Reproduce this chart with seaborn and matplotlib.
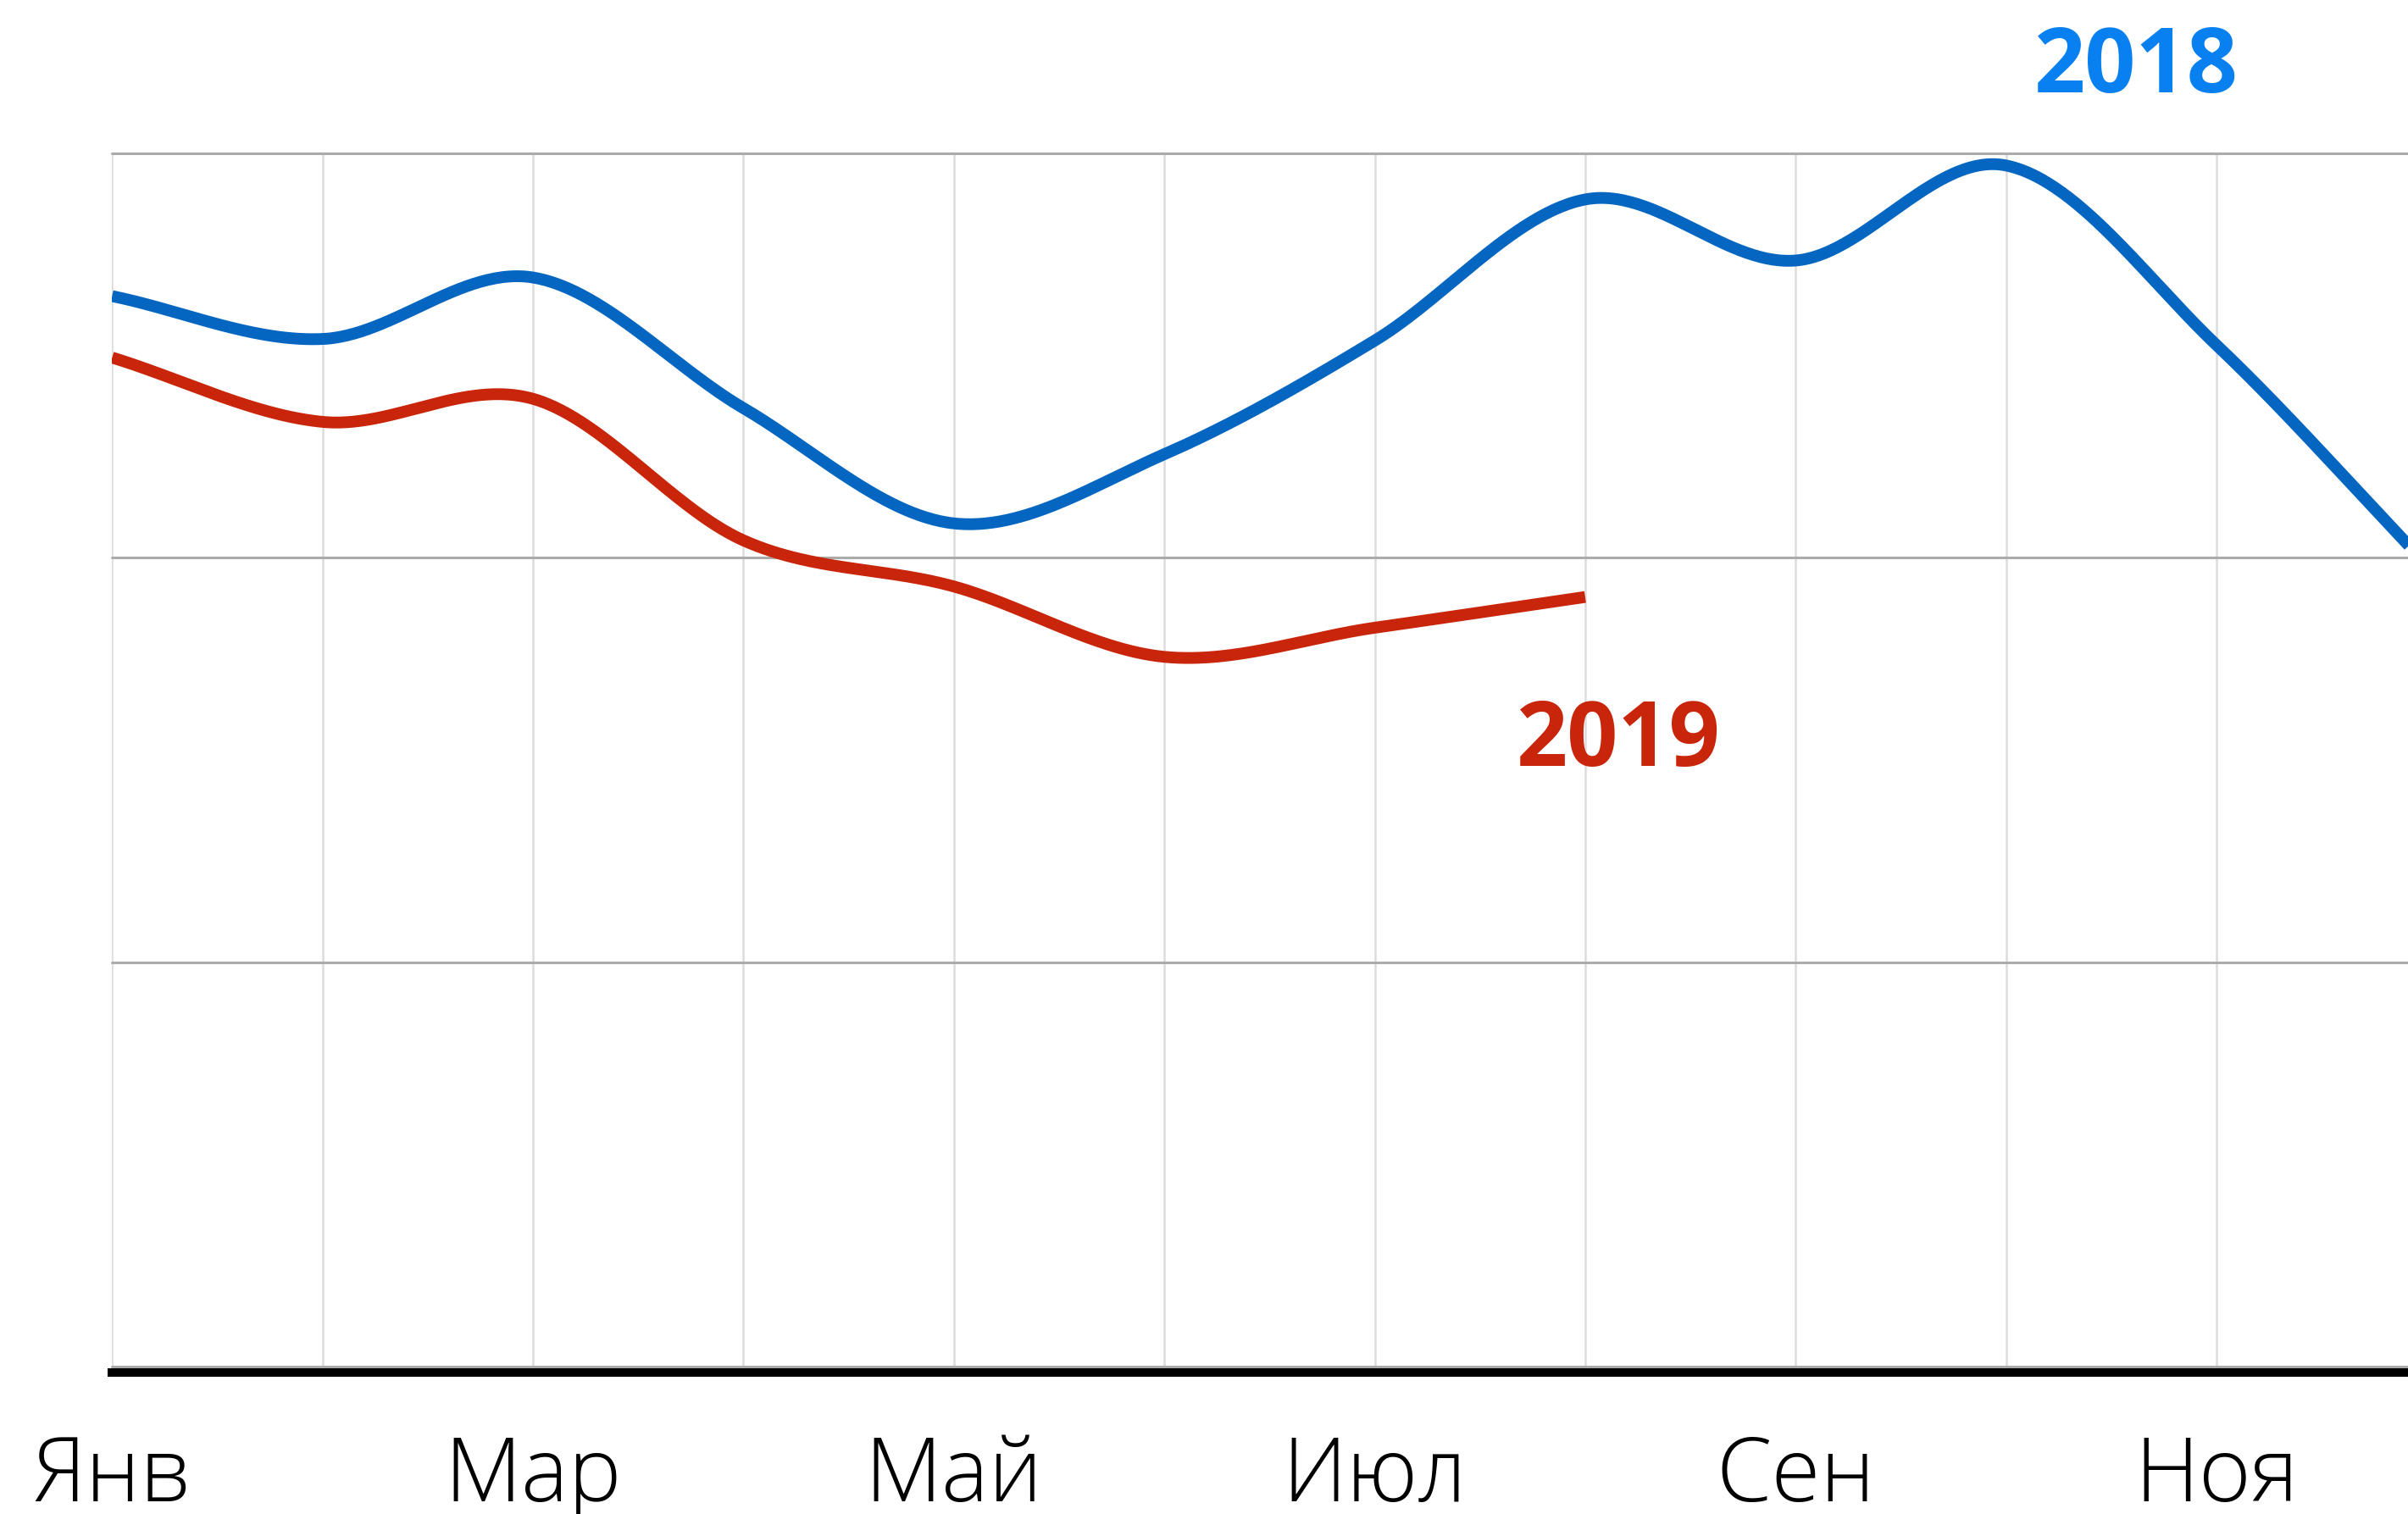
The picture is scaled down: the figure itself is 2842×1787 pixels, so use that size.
import numpy as np
import pandas as pd
import matplotlib
matplotlib.use("Agg")
import matplotlib.pyplot as plt
import seaborn as sns

# ---- data ----
months = ["Янв", "Фев", "Мар", "Апр", "Май", "Июн",
          "Июл", "Авг", "Сен", "Окт", "Ноя", "Дек"]
labelled_months = ["Янв", "Мар", "Май", "Июл", "Сен", "Ноя"]
values_2018 = [264.7, 254.1, 269.3, 237.0, 208.5, 225.6,
               253.7, 288.6, 273.5, 297.0, 252.6, 198.3]
values_2019 = [249.5, 233.6, 239.3, 204.3, 192.9, 175.5, 182.7, 190.3]
y_grid = [0, 100, 200, 300]

C2018_LINE = "#0466C0"
C2018_TEXT = "#0880F0"
C2019 = "#C8250A"


def catmull_rom(xs, ys, n=60):
    """Smooth display of monthly points (Catmull-Rom spline through them)."""
    xs = np.asarray(xs, float)
    ys = np.asarray(ys, float)
    m = np.empty_like(ys)
    m[1:-1] = (ys[2:] - ys[:-2]) / 2.0
    m[0] = ys[1] - ys[0]
    m[-1] = ys[-1] - ys[-2]
    ox, oy = [], []
    for i in range(len(xs) - 1):
        t = np.linspace(0, 1, n, endpoint=(i == len(xs) - 2))
        h00 = 2 * t**3 - 3 * t**2 + 1
        h10 = t**3 - 2 * t**2 + t
        h01 = -2 * t**3 + 3 * t**2
        h11 = t**3 - t**2
        oy.append(h00 * ys[i] + h10 * m[i] + h01 * ys[i + 1] + h11 * m[i + 1])
        ox.append(xs[i] + t * (xs[i + 1] - xs[i]))
    return np.concatenate(ox), np.concatenate(oy)


rows = []
for year, vals in (("2018", values_2018), ("2019", values_2019)):
    sx, sy = catmull_rom(np.arange(len(vals)), vals)
    rows.append(pd.DataFrame({"x": sx, "y": sy, "year": year}))
df = pd.concat(rows, ignore_index=True)

sns.set_theme(style="white")
plt.rcParams["font.family"] = ["Open Sans", "DejaVu Sans"]

W, H = 2842, 1787
fig = plt.figure(figsize=(W / 100, H / 100), dpi=100)
ax_left = 132.3 / W
ax_bottom = (H - 1613) / H
ax_top = (H - 181) / H
ax = fig.add_axes([ax_left, ax_bottom, 1.0 - ax_left, ax_top - ax_bottom])

sns.lineplot(data=df, x="x", y="y", hue="year",
             palette={"2018": C2018_LINE, "2019": C2019},
             legend=False, sort=False, ax=ax, estimator=None)
for ln in ax.get_lines():
    ln.set_linewidth(10.0)
    ln.set_solid_capstyle("butt")
    ln.set_solid_joinstyle("round")

ax.set_xticks(range(len(months)))
ax.set_xticklabels([m if m in labelled_months else "" for m in months])
ax.set_yticks(y_grid)
ax.set_yticklabels([])
ax.set_xlim(0, 10.91)
ax.set_ylim(y_grid[0], y_grid[-1])

ax.grid(axis="x", color="#dcdcdc", linewidth=1.8)
ax.grid(axis="y", color="#ababab", linewidth=2.2)
ax.set_axisbelow(True)
for gl in ax.get_ygridlines() + ax.get_xgridlines():
    gl.set_clip_on(False)

for s in ("left", "right", "top"):
    ax.spines[s].set_visible(False)
sp = ax.spines["bottom"]
sp.set_color("black")
sp.set_linewidth(7.2)
sp.set_capstyle("projecting")
sp.set_position(("outward", 4.7))

ax.tick_params(axis="x", length=0, pad=52, labelsize=76, labelcolor="black")
for t in ax.get_xticklabels():
    t.set_fontweight("light")
ax.tick_params(axis="y", length=0)
ax.set_xlabel("")
ax.set_ylabel("")

ax.text(9.62, 315.1, "2018", color=C2018_TEXT, fontsize=76,
        fontweight="bold", ha="center", va="baseline", clip_on=False)
ax.text(7.16, 148.5, "2019", color=C2019, fontsize=76,
        fontweight="bold", ha="center", va="baseline", clip_on=False)

fig.savefig("out.png", dpi=100, facecolor="white")
